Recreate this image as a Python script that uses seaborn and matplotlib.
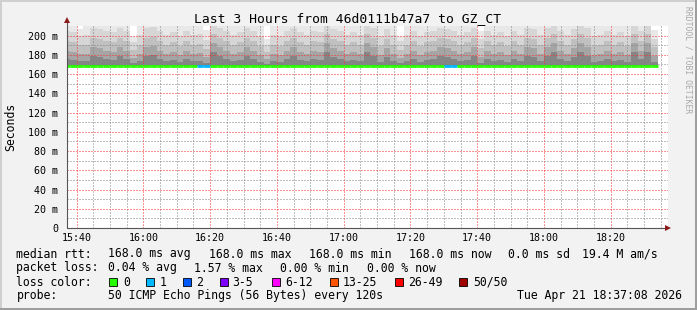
import numpy as np
import pandas as pd
import matplotlib
matplotlib.use("Agg")
import matplotlib.pyplot as plt
import seaborn as sns
from matplotlib.patches import Rectangle
from matplotlib.lines import Line2D

# ---------------- data ----------------
# 2-minute bins, start minute counted from 15:00
bin_start = list(range(36, 214, 2))  # 89 bins, 15:36 ... 18:32

# smoke: upper ping values per bin (ms), outermost (max) to innermost band
rtt_max = [215,214,207,212,218,217,215,214,218,215,
           200,211,218,219,215,212,214,211,215,212,
           212,206,220,218,215,212,214,218,215,211,
           196,212,211,215,218,214,212,215,214,220,
           217,215,212,214,212,220,218,211,217,212,
           200,212,215,211,214,215,218,217,215,212,
           214,218,205,215,212,214,211,215,212,218,
           217,212,218,220,215,212,217,220,218,211,
           212,215,212,214,211,220,215,220,206]
rtt_q1 = [205,204,200,201,208,207,205,204,208,205,
          193,201,208,209,205,201,204,200,205,201,
          202,195,211,208,205,201,204,208,205,200,
          190,201,200,205,208,204,201,205,204,211,
          207,205,201,204,201,211,208,200,207,201,
          194,201,205,200,204,205,208,207,205,201,
          204,208,196,205,201,204,200,205,201,208,
          207,201,208,211,205,201,207,211,208,200,
          201,205,201,204,200,211,205,211,197]
rtt_q2 = [194,193,190,190,198,197,194,193,198,194,
          185,190,198,199,194,190,193,189,194,190,
          191,186,202,198,194,190,193,198,194,189,
          183,190,189,194,198,193,190,194,193,202,
          197,194,190,193,190,202,198,189,197,190,
          185,190,194,189,193,194,198,197,194,190,
          193,198,187,194,190,193,189,194,190,198,
          197,190,198,202,194,190,197,202,198,189,
          190,194,190,193,189,202,194,202,188]
rtt_q3 = [184,183,181,181,188,187,184,183,188,184,
          177,181,188,189,184,181,183,180,184,181,
          182,178,192,188,184,181,183,188,184,180,
          176,181,180,184,188,183,181,184,183,192,
          187,184,181,183,181,192,188,180,187,181,
          177,181,184,180,183,184,188,187,184,181,
          183,188,178,184,181,183,180,184,181,188,
          187,181,188,192,184,181,187,192,188,180,
          181,184,181,183,180,192,184,192,179]
rtt_q4 = [176,175,174,174,179,178,176,175,179,176,
          172,174,179,180,176,174,175,173,176,174,
          174,172,183,179,176,174,175,179,176,173,
          171,174,173,176,179,175,174,176,175,183,
          178,176,174,175,174,183,179,173,178,174,
          172,174,176,173,175,176,179,178,176,174,
          175,179,172,176,174,175,173,176,174,179,
          178,174,179,183,176,174,178,183,179,173,
          174,176,174,175,173,183,176,183,173]
median_rtt = [168.0] * 89
lost_pings = [0]*20 + [1, 1] + [0]*35 + [1, 1] + [0]*30

x_tick_minutes = [40, 60, 80, 100, 120, 140, 160, 180, 200]
x_tick_labels = ["15:40", "16:00", "16:20", "16:40", "17:00", "17:20", "17:40", "18:00", "18:20"]
y_ticks = [0, 20, 40, 60, 80, 100, 120, 140, 160, 180, 200]
y_tick_labels = ["0", "20 m", "40 m", "60 m", "80 m", "100 m", "120 m", "140 m", "160 m", "180 m", "200 m"]

loss_labels = ["0", "1", "2", "3-5", "6-12", "13-25", "26-49", "50/50"]
loss_colors = ["#26ff00", "#00b8ff", "#0059ff", "#7e00ff", "#ff00ff", "#ff5500", "#ff0000", "#a10000"]

title = "Last 3 Hours from 46d0111b47a7 to GZ_CT"

# ---------------- style ----------------
sns.set_theme(style="white")
plt.rcParams["font.family"] = ["DejaVu Sans Mono", "DejaVu Sans"]
plt.rcParams["lines.dash_capstyle"] = "butt"

W, H = 697, 310
fig = plt.figure(figsize=(W / 100, H / 100), dpi=100)
fig.patch.set_facecolor("#f2f2f2")

def fx(x):
    return x / W

def fy(y):
    return 1 - y / H

AX_L, AX_R, AX_T, AX_B = 67, 668, 26, 228
ax = fig.add_axes([fx(AX_L), fy(AX_B), (AX_R - AX_L) / W, (AX_B - AX_T) / H])
ax.set_facecolor("white")

df = pd.DataFrame({"start": bin_start, "max": rtt_max, "q1": rtt_q1, "q2": rtt_q2,
                   "q3": rtt_q3, "q4": rtt_q4, "median": median_rtt, "loss": lost_pings})

band_cols = ["max", "q1", "q2", "q3", "q4"]
band_colors = ["#e8e8e8", "#d6d6d6", "#c0c0c0", "#a5a5a5", "#858585"]
for col, c in zip(band_cols, band_colors):
    ax.bar(df["start"], df[col] - df["median"], bottom=df["median"], width=2,
           align="edge", color=c, linewidth=0, zorder=1)

# median line coloured by loss
seg_colors = [loss_colors[int(l)] for l in df["loss"]]
ax.hlines(df["median"], df["start"], df["start"] + 2, colors=seg_colors,
          linewidth=2.0, zorder=4)

ax.set_xlim(37.133, 217.133)
ax.set_ylim(0, 210)

ax.set_xticks(x_tick_minutes)
ax.set_xticklabels(x_tick_labels)
ax.set_xticks(np.arange(40, 216, 5), minor=True)
ax.set_yticks(y_ticks)
ax.set_yticklabels(y_tick_labels)
ax.set_yticks(np.arange(10, 210, 20), minor=True)

ax.set_axisbelow(False)
ax.grid(which="major", color=(1.0, 0.15, 0.15, 0.45), linestyle=(0, (1, 2)),
        linewidth=0.72, dash_capstyle="butt")
ax.grid(which="minor", color=(0.5, 0.5, 0.5, 0.45), linestyle=(0, (1, 2)),
        linewidth=0.72, dash_capstyle="butt")

for s in ax.spines.values():
    s.set_visible(False)

ax.tick_params(axis="both", which="major", labelsize=7.2, colors="#555555",
               labelcolor="black", length=2.5, width=0.7, direction="out")
ax.tick_params(axis="x", which="major", pad=1.0)
ax.tick_params(axis="y", which="major", pad=4)
ax.tick_params(axis="both", which="minor", length=1.5, width=0.7, colors="#555555",
               direction="out")

# axis lines with arrows
ax.add_line(Line2D([0, 1.0], [0, 0], transform=ax.transAxes, color="#555555",
                   lw=0.8, clip_on=False, zorder=5))
ax.add_line(Line2D([0, 0], [0, 1.02], transform=ax.transAxes, color="#555555",
                   lw=0.8, clip_on=False, zorder=5))
ax.plot([1.0], [0], marker=">", markersize=4, color="#8b1a1a", transform=ax.transAxes,
        clip_on=False, zorder=6, markeredgewidth=0)
ax.plot([0], [1.03], marker="^", markersize=4, color="#8b1a1a", transform=ax.transAxes,
        clip_on=False, zorder=6, markeredgewidth=0)

# title and labels
fig.text(fx(348), fy(19), title, ha="center", va="center", fontsize=9.4, color="black")
fig.text(fx(11), fy(127), "Seconds", ha="center", va="center", rotation=90,
         fontsize=8.3, color="black")
fig.text(fx(688), fy(60), "RRDTOOL / TOBI OETIKER", ha="center", va="center",
         rotation=270, fontsize=5.8, color="#a8a8a8")

# legend rows
LF = 8.3
rows = [
    (254, [(16.5, "median rtt:"), (108, "168.0 ms avg"), (208.6, "168.0 ms max"),
           (309, "168.0 ms min"), (409, "168.0 ms now"), (508, "0.0 ms sd"),
           (582, "19.4 M am/s")]),
    (268, [(16.5, "packet loss:"), (108, "0.04 % avg"), (194, "1.57 % max"),
           (280, "0.00 % min"), (366.5, "0.00 % now")]),
    (282, [(16.5, "loss color:")]),
    (296, [(16.5, "probe:"), (108, "50 ICMP Echo Pings (56 Bytes) every 120s")]),
]
for y, items in rows:
    for x, s in items:
        fig.text(fx(x), fy(y), s, ha="left", va="center", fontsize=LF, color="black")
fig.text(fx(682), fy(296), "Tue Apr 21 18:37:08 2026", ha="right", va="center",
         fontsize=LF, color="black")

box_x = [108.8, 145.8, 182.8, 219.8, 271.5, 330, 394.6, 459]
lab_x = [123, 159.6, 196, 232.7, 285, 343, 408, 473.5]
for bx, lx, c, lab in zip(box_x, lab_x, loss_colors, loss_labels):
    fig.patches.append(Rectangle((fx(bx), fy(286)), 8 / W, 8 / H, transform=fig.transFigure,
                                 facecolor=c, edgecolor="black", linewidth=0.6))
    fig.text(fx(lx), fy(282), lab, ha="left", va="center", fontsize=LF, color="black")

# frame
fig.patches.append(Rectangle((0, 1 - 2 / H), 1, 2 / H, transform=fig.transFigure,
                             facecolor="#cfcfcf", edgecolor="none"))
fig.patches.append(Rectangle((0, 0), 2 / W, 1, transform=fig.transFigure,
                             facecolor="#cfcfcf", edgecolor="none"))
fig.patches.append(Rectangle((0, 0), 1, 2 / H, transform=fig.transFigure,
                             facecolor="#9e9e9e", edgecolor="none"))
fig.patches.append(Rectangle((1 - 2 / W, 0), 2 / W, 1, transform=fig.transFigure,
                             facecolor="#9e9e9e", edgecolor="none"))

fig.savefig("out.png", dpi=100, facecolor=fig.get_facecolor())
